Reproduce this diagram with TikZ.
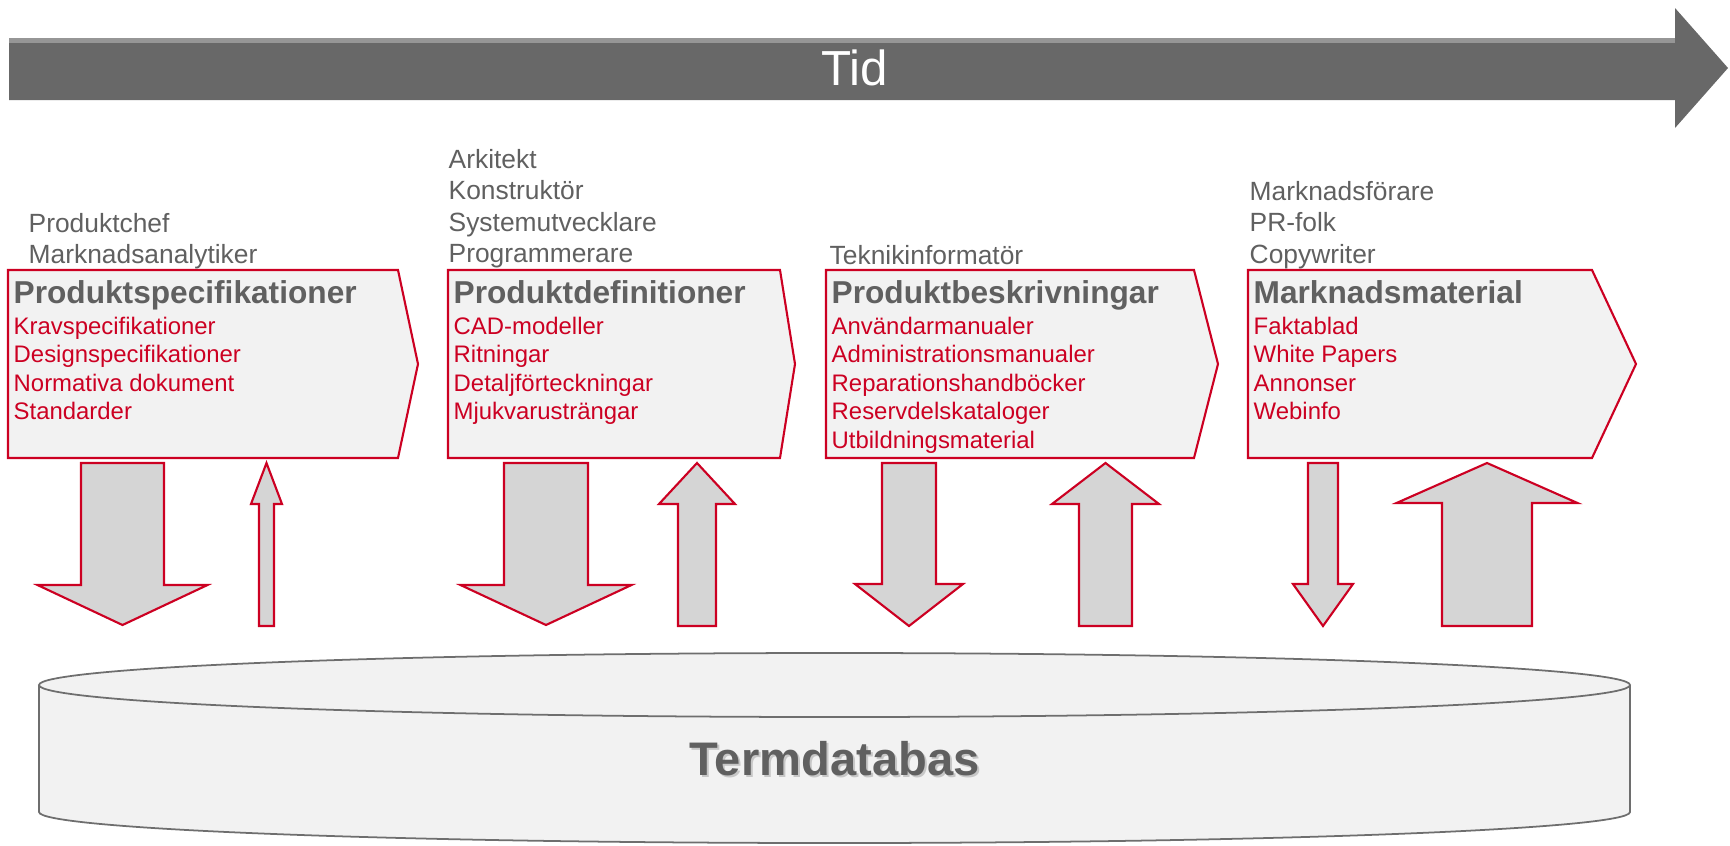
\documentclass[tikz,border=0pt]{standalone}
\usepackage{fontspec}
\setmainfont{Liberation Sans}
\usetikzlibrary{positioning}

\definecolor{crimson}{RGB}{204,0,34}
\definecolor{textgray}{RGB}{96,96,96}
\definecolor{boxfill}{RGB}{242,242,242}
\definecolor{arrowfill}{RGB}{213,213,213}
\definecolor{tidgray}{RGB}{104,104,104}
\definecolor{tidlight}{RGB}{150,150,150}
\definecolor{dbline}{RGB}{110,110,110}

% block arrow: centre x, half shaft, half head, start y, head base y, tip y
\newcommand{\blockarrow}[6]{%
  \draw[blockarrow] (#1-#2,#4) -- (#1-#2,#5) -- (#1-#3,#5) -- (#1,#6)
    -- (#1+#3,#5) -- (#1+#2,#5) -- (#1+#2,#4) -- cycle;}

\tikzset{%
  % Specifications for style of shapes and texts:
      chevron/.style = {draw=crimson, line width=0.6pt, fill=boxfill},
   blockarrow/.style = {draw=crimson, line width=0.6pt, fill=arrowfill,
                        line join=miter},
        title/.style = {anchor=base west, inner sep=0pt, text=textgray,
                        font=\bfseries\fontsize{9}{10}\selectfont},
         item/.style = {anchor=base west, inner sep=0pt, text=crimson,
                        font=\fontsize{6.8}{8}\selectfont},
         role/.style = {anchor=base west, inner sep=0pt, text=textgray,
                        font=\fontsize{7.5}{9}\selectfont},
      dbtitle/.style = {anchor=base, inner sep=0pt,
                        font=\bfseries\fontsize{13.4}{15}\selectfont},
}

\begin{document}
\begin{tikzpicture}[x=0.01cm, y=-0.01cm]
  \useasboundingbox (0,0) rectangle (1730,845);

  % Time arrow
  \fill[tidgray] (9,38) -- (1675,38) -- (1675,8) -- (1728,68) -- (1675,128)
    -- (1675,100) -- (9,100) -- cycle;
  \fill[tidlight] (9,38) rectangle (1675,43);
  \node (tid) [text=white, font=\fontsize{14}{16}\selectfont] at (855,68) {Tid};

  % Stage boxes
  \draw[chevron] (8,270) -- (398,270) -- (418,364) -- (398,458) -- (8,458) -- cycle;
  \draw[chevron] (448,270) -- (780,270) -- (795,364) -- (780,458) -- (448,458) -- cycle;
  \draw[chevron] (826,270) -- (1194,270) -- (1218,364) -- (1194,458) -- (826,458) -- cycle;
  \draw[chevron] (1248,270) -- (1592,270) -- (1636,364) -- (1592,458) -- (1248,458) -- cycle;

  % Titles
  \node (spec)  [title] at (13,303)   {Produktspecifikationer};
  \node (def)   [title] at (453,303)  {Produktdefinitioner};
  \node (beskr) [title] at (831,303)  {Produktbeskrivningar};
  \node (mark)  [title] at (1253,303) {Marknadsmaterial};

  % Documents of each stage
  \foreach \doc [count=\i] in {Kravspecifikationer, Designspecifikationer,
      Normativa dokument, Standarder}
    \node (spec-\i) [item] at (13,{334+28.5*(\i-1)}) {\doc};
  \foreach \doc [count=\i] in {CAD-modeller, Ritningar, Detaljförteckningar,
      Mjukvarusträngar}
    \node (def-\i) [item] at (453,{334+28.5*(\i-1)}) {\doc};
  \foreach \doc [count=\i] in {Användarmanualer, Administrationsmanualer,
      Reparationshandböcker, Reservdelskataloger, Utbildningsmaterial}
    \node (beskr-\i) [item] at (831,{334+28.5*(\i-1)}) {\doc};
  \foreach \doc [count=\i] in {Faktablad, White Papers, Annonser, Webinfo}
    \node (mark-\i) [item] at (1253,{334+28.5*(\i-1)}) {\doc};

  % Roles above each stage
  \foreach \role [count=\i] in {Produktchef, Marknadsanalytiker}
    \node (specrole-\i) [role] at (28,{232+31.5*(\i-1)}) {\role};
  \foreach \role [count=\i] in {Arkitekt, Konstruktör, Systemutvecklare,
      Programmerare}
    \node (defrole-\i) [role] at (448,{168+31.5*(\i-1)}) {\role};
  \node (beskrrole-1) [role] at (829,264) {Teknikinformatör};
  \foreach \role [count=\i] in {Marknadsförare, PR-folk, Copywriter}
    \node (markrole-\i) [role] at (1249,{200+31.5*(\i-1)}) {\role};

  % Arrows to and from the database
  \blockarrow{122.5}{41.5}{85}{463}{585}{625}
  \blockarrow{266.5}{7.5}{15.5}{626}{504}{463}
  \blockarrow{546}{42}{85.5}{463}{585}{625}
  \blockarrow{697}{19}{38}{626}{504}{463}
  \blockarrow{909}{27}{54}{463}{584}{626}
  \blockarrow{1105.5}{26.5}{53.5}{626}{504}{463}
  \blockarrow{1323}{15}{30}{463}{584}{626}
  \blockarrow{1487}{45}{90.5}{626}{503}{463}

  % Database cylinder
  \draw[fill=boxfill, draw=dbline, line width=0.5pt] (39,685) -- (39,812)
    arc[start angle=180, end angle=0, x radius=795.5, y radius=31] -- (1630,685);
  \draw[fill=boxfill, draw=dbline, line width=0.5pt] (834.5,685)
    ellipse [x radius=795.5, y radius=32];
  \node (dbshadow) [dbtitle, text=black!22] at (836.5,777.5) {Termdatabas};
  \node (db)       [dbtitle, text=textgray] at (834.5,775) {Termdatabas};
\end{tikzpicture}
\end{document}
